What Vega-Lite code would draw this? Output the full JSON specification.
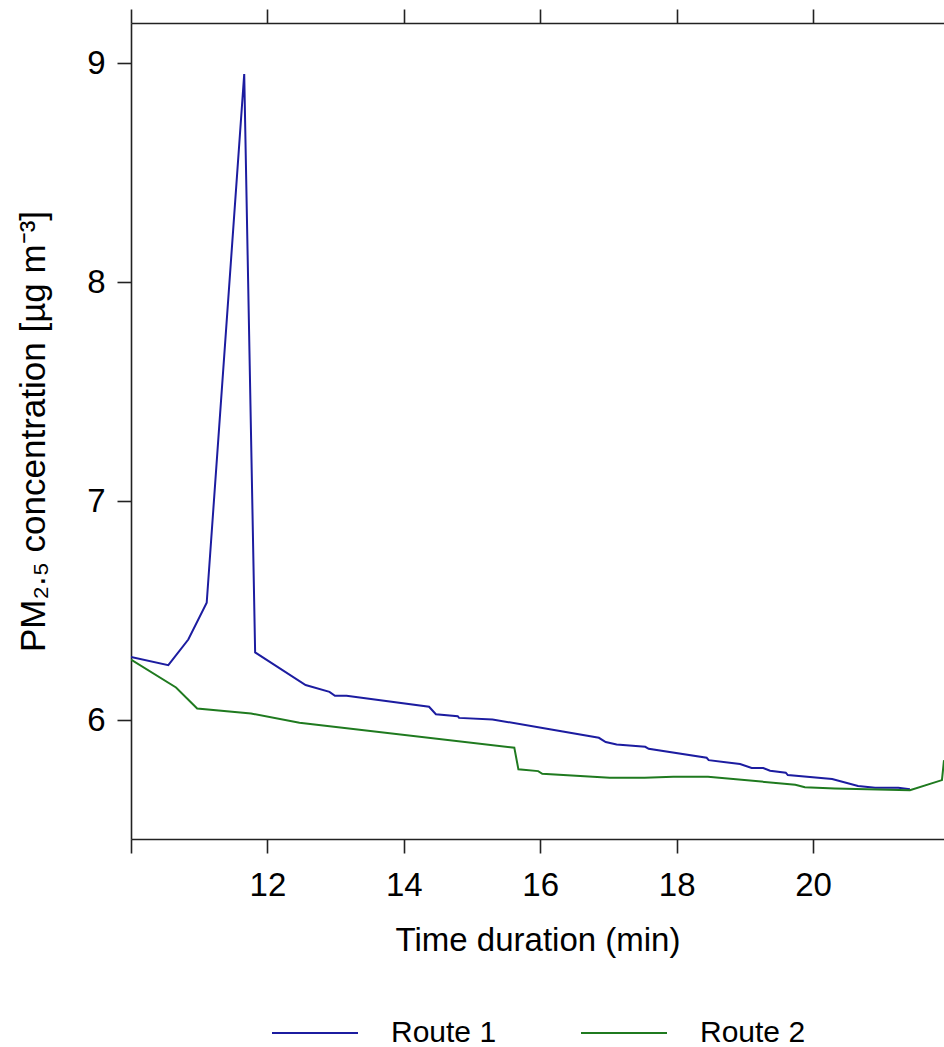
{
  "$schema": "https://vega.github.io/schema/vega-lite/v6.json",
  "width": 813,
  "height": 816,
  "autosize": {"type": "none"},
  "padding": {"left": 131, "top": 23, "right": 0, "bottom": 208},
  "background": "white",
  "config": {
    "view": {"stroke": null},
    "font": "Liberation Sans",
    "axis": {"grid": false, "domainColor": "#222222", "tickColor": "#222222", "domainWidth": 1.6, "tickWidth": 1.6, "labelColor": "#000000", "titleColor": "#000000", "labelFont": "Liberation Sans", "titleFont": "Liberation Sans", "titleFontWeight": "normal"}
  },
  "data": {
    "values": [
      {"t": 10.0, "pm": 6.288, "route": "Route 1"},
      {"t": 10.547, "pm": 6.251, "route": "Route 1"},
      {"t": 10.84, "pm": 6.368, "route": "Route 1"},
      {"t": 11.11, "pm": 6.536, "route": "Route 1"},
      {"t": 11.66, "pm": 8.95, "route": "Route 1"},
      {"t": 11.82, "pm": 6.309, "route": "Route 1"},
      {"t": 12.56, "pm": 6.16, "route": "Route 1"},
      {"t": 12.91, "pm": 6.129, "route": "Route 1"},
      {"t": 12.99, "pm": 6.111, "route": "Route 1"},
      {"t": 13.16, "pm": 6.111, "route": "Route 1"},
      {"t": 14.37, "pm": 6.061, "route": "Route 1"},
      {"t": 14.47, "pm": 6.027, "route": "Route 1"},
      {"t": 14.79, "pm": 6.018, "route": "Route 1"},
      {"t": 14.81, "pm": 6.01, "route": "Route 1"},
      {"t": 15.3, "pm": 6.003, "route": "Route 1"},
      {"t": 16.14, "pm": 5.958, "route": "Route 1"},
      {"t": 16.86, "pm": 5.919, "route": "Route 1"},
      {"t": 16.96, "pm": 5.9, "route": "Route 1"},
      {"t": 17.12, "pm": 5.889, "route": "Route 1"},
      {"t": 17.54, "pm": 5.878, "route": "Route 1"},
      {"t": 17.59, "pm": 5.869, "route": "Route 1"},
      {"t": 18.44, "pm": 5.828, "route": "Route 1"},
      {"t": 18.47, "pm": 5.817, "route": "Route 1"},
      {"t": 18.93, "pm": 5.799, "route": "Route 1"},
      {"t": 19.1, "pm": 5.781, "route": "Route 1"},
      {"t": 19.27, "pm": 5.781, "route": "Route 1"},
      {"t": 19.37, "pm": 5.769, "route": "Route 1"},
      {"t": 19.6, "pm": 5.76, "route": "Route 1"},
      {"t": 19.63, "pm": 5.749, "route": "Route 1"},
      {"t": 20.28, "pm": 5.731, "route": "Route 1"},
      {"t": 20.66, "pm": 5.699, "route": "Route 1"},
      {"t": 20.91, "pm": 5.691, "route": "Route 1"},
      {"t": 21.25, "pm": 5.691, "route": "Route 1"},
      {"t": 21.42, "pm": 5.684, "route": "Route 1"},
      {"t": 10.0, "pm": 6.276, "route": "Route 2"},
      {"t": 10.66, "pm": 6.149, "route": "Route 2"},
      {"t": 10.97, "pm": 6.053, "route": "Route 2"},
      {"t": 11.76, "pm": 6.03, "route": "Route 2"},
      {"t": 12.47, "pm": 5.988, "route": "Route 2"},
      {"t": 15.62, "pm": 5.874, "route": "Route 2"},
      {"t": 15.68, "pm": 5.775, "route": "Route 2"},
      {"t": 15.97, "pm": 5.767, "route": "Route 2"},
      {"t": 16.03, "pm": 5.755, "route": "Route 2"},
      {"t": 17.02, "pm": 5.737, "route": "Route 2"},
      {"t": 17.53, "pm": 5.737, "route": "Route 2"},
      {"t": 17.95, "pm": 5.741, "route": "Route 2"},
      {"t": 18.46, "pm": 5.741, "route": "Route 2"},
      {"t": 19.74, "pm": 5.705, "route": "Route 2"},
      {"t": 19.88, "pm": 5.693, "route": "Route 2"},
      {"t": 20.32, "pm": 5.688, "route": "Route 2"},
      {"t": 21.42, "pm": 5.68, "route": "Route 2"},
      {"t": 21.89, "pm": 5.726, "route": "Route 2"},
      {"t": 21.92, "pm": 5.817, "route": "Route 2"}
    ]
  },
  "resolve": {"axis": {"x": "independent"}},
  "layer": [
    {
      "mark": {"type": "line", "strokeWidth": 2, "clip": true},
      "encoding": {
        "x": {
          "field": "t",
          "type": "quantitative",
          "scale": {"domain": [10, 21.92], "nice": false, "zero": false},
          "axis": {
            "orient": "bottom",
            "values": [10, 12, 14, 16, 18, 20],
            "format": "d",
            "labelExpr": "datum.value == 10 ? '' : datum.label",
            "tickSize": 14,
            "labelFontSize": 33,
            "labelPadding": 16,
            "title": "Time duration (min)",
            "titleFontSize": 33,
            "titlePadding": 22
          }
        },
        "y": {
          "field": "pm",
          "type": "quantitative",
          "scale": {"domain": [5.457, 9.183], "nice": false, "zero": false},
          "axis": {
            "values": [6, 7, 8, 9],
            "format": "d",
            "tickSize": 14,
            "labelFontSize": 33,
            "labelPadding": 12,
            "title": "PM₂.₅ concentration [µg m⁻³]",
            "titleFontSize": 35,
            "titlePadding": 35
          }
        },
        "color": {
          "field": "route",
          "type": "nominal",
          "scale": {"domain": ["Route 1", "Route 2"], "range": ["#1c1ca0", "#1f7a1f"]},
          "legend": {
            "title": null,
            "orient": "none",
            "direction": "horizontal",
            "legendX": 140,
            "legendY": 966,
            "padding": 0,
            "symbolType": "stroke",
            "symbolSize": 7396,
            "symbolStrokeWidth": 2,
            "labelFontSize": 30,
            "labelFont": "Liberation Sans",
            "labelColor": "#000000",
            "labelOffset": 32,
            "columnPadding": 80
          }
        }
      }
    },
    {
      "mark": {"type": "line", "strokeWidth": 2, "strokeOpacity": 0, "clip": true},
      "encoding": {
        "x": {
          "field": "t",
          "type": "quantitative",
          "axis": {
            "orient": "top",
            "values": [10, 12, 14, 16, 18, 20],
            "labels": false,
            "tickSize": 14,
            "title": null
          }
        },
        "y": {"field": "pm", "type": "quantitative"},
        "detail": {"field": "route", "type": "nominal"}
      }
    }
  ]
}
